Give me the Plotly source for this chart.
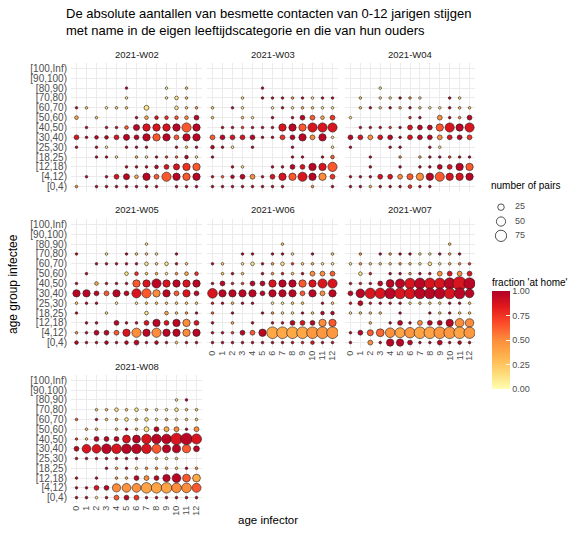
import plotly.graph_objects as go

# ---------------- data ----------------
age_groups = ["[100,Inf)", "[90,100)", "[80,90)", "[70,80)", "[60,70)", "[50,60)",
              "[40,50)", "[30,40)", "[25,30)", "[18,25)", "[12,18)", "[4,12)", "[0,4)"]
infector_ages = list(range(13))
weeks = ["2021-W02", "2021-W03", "2021-W04", "2021-W05", "2021-W06", "2021-W07", "2021-W08"]
size_breaks = [25, 50, 75]
fraction_tickvals = [0, 0.25, 0.5, 0.75, 1.0]
fraction_ticktext = ["0.00", "0.25", "0.50", "0.75", "1.00"]

Z = [0] * 13

n_w02 = [Z, Z,
         [0,0,0,0,0,4,0,0,0,4,0,4,0],
         [0,0,0,0,0,4,0,0,0,4,8,4,0],
         [4,4,0,4,4,4,0,14,0,0,8,4,4],
         [8,0,4,0,0,0,4,8,8,8,8,8,14],
         [0,4,0,4,4,8,22,32,32,32,32,50,32],
         [14,4,8,8,14,22,14,32,32,32,14,32,32],
         [4,0,4,4,0,4,4,4,0,0,4,4,4],
         [0,0,4,4,4,0,4,4,4,4,4,8,4],
         [0,0,0,0,0,4,4,4,8,14,22,32,32],
         [0,4,0,4,14,22,8,32,14,50,32,32,32],
         [4,0,4,4,4,4,4,4,4,0,4,4,4]]
f_w02 = [Z, Z,
         [0,0,0,0,0,.97,0,0,0,.12,0,.26,0],
         [0,0,0,0,0,.12,0,0,0,.12,.12,.26,0],
         [.97,.26,0,.12,.26,.26,0,.12,0,0,.12,.26,.5],
         [.38,0,.26,0,0,0,.97,.38,.87,.76,.64,.5,.97],
         [0,.97,0,.97,.97,.64,.97,.87,.87,.87,.97,.64,.97],
         [.87,.97,.97,.97,.87,.97,.97,.97,.64,.97,.64,.97,.97],
         [.97,0,.97,.12,0,.97,.97,.97,0,0,.97,.26,.97],
         [0,0,.97,.97,.12,0,.38,.12,.97,.76,.64,.97,.12],
         [0,0,0,0,0,.97,.97,.97,.97,.87,.87,.76,.64],
         [0,.97,0,.97,.87,.97,.38,.97,.64,.64,.97,.64,.97],
         [.5,0,.97,.97,.97,.97,.97,.97,.97,0,.97,.97,.97]]

n_w03 = [Z, Z,
         [0,0,0,0,0,4,0,0,0,0,0,0,0],
         [0,0,0,4,0,4,4,4,4,4,4,4,4],
         [4,0,4,4,0,0,4,4,4,4,4,4,4],
         [4,0,0,4,4,0,4,0,4,14,14,8,14],
         [0,4,4,4,4,4,4,32,32,32,50,50,50],
         [14,14,14,14,14,4,4,14,14,32,14,32,4],
         [8,4,4,0,4,0,0,0,4,0,0,0,4],
         [4,0,0,0,0,0,0,0,4,4,0,4,8],
         [0,0,4,4,0,0,4,4,14,14,32,32,50],
         [4,4,8,14,14,4,14,32,32,50,32,32,14],
         [4,4,4,4,4,4,4,4,0,0,4,0,4]]
f_w03 = [Z, Z,
         [0,0,0,0,0,.97,0,0,0,0,0,0,0],
         [0,0,0,.12,0,.97,.97,.97,.5,.97,.12,.97,.97],
         [.26,0,.97,.12,0,0,.12,.97,.12,.38,.26,.12,.12],
         [.26,0,0,.26,.12,0,.97,0,.97,.97,.64,.38,.76],
         [0,.97,.97,.76,.97,.97,.97,.87,.97,.64,.87,.87,.87],
         [.64,.97,.87,.87,.97,.97,.97,.76,.97,.97,.5,.97,.12],
         [.97,.97,.12,0,.97,0,0,0,.97,0,0,0,.12],
         [.97,0,0,0,0,0,0,0,.97,.97,0,.97,.64],
         [0,0,.97,.12,0,0,.97,.97,.97,.87,.97,.87,.64],
         [.97,.64,.97,.97,.5,.97,.87,.87,.64,.87,.97,.5,.76],
         [.97,.97,.97,.97,.97,.97,.97,.97,0,0,.5,0,.97]]

n_w04 = [Z, Z,
         [0,0,0,4,0,0,0,0,0,0,0,0,0],
         [0,4,0,4,4,4,4,4,0,0,4,4,0],
         [0,4,4,4,4,4,4,4,4,4,4,4,4],
         [4,0,0,0,0,0,4,4,0,14,4,4,14],
         [0,4,4,4,4,4,14,14,14,32,50,32,50],
         [14,14,14,14,14,4,14,14,14,14,14,14,14],
         [4,0,0,0,4,4,0,0,4,4,0,0,0],
         [0,0,4,0,0,4,0,4,4,4,4,4,4],
         [0,0,4,0,0,4,0,4,4,14,14,32,32],
         [4,4,4,14,14,14,22,32,32,50,32,32,32],
         [4,4,4,4,4,4,8,4,4,0,0,0,0]]
f_w04 = [Z, Z,
         [0,0,0,.12,0,0,0,0,0,0,0,0,0],
         [0,.26,0,.12,.12,.97,.5,.12,0,0,.97,.12,0],
         [0,.26,.97,.26,.97,.38,.97,.26,.12,.12,.97,.38,.26],
         [.12,0,0,0,0,0,.76,.97,0,.5,.97,.5,.97],
         [0,.97,.97,.97,.76,.97,.87,.97,.97,.64,.87,.97,.87],
         [.97,.87,.5,.87,.97,.97,.87,.97,.97,.5,.87,.97,.76],
         [.97,0,0,0,.97,.97,0,0,.97,.12,0,0,0],
         [0,0,.97,0,0,.5,0,.38,.97,.97,.76,.97,.97],
         [0,0,.97,0,0,.97,0,.97,.97,.97,.87,.97,.64],
         [.97,.97,.97,.87,.87,.5,.64,.5,.97,.64,.87,.87,.97],
         [.97,.97,.38,.97,.97,.97,.76,.97,.97,0,0,0,0]]

n_w05 = [Z, Z,
         [0,0,0,0,0,0,0,4,0,0,0,0,0],
         [4,0,0,4,0,4,4,4,4,0,4,0,0],
         [0,0,4,4,4,4,4,8,4,8,4,4,0],
         [0,4,0,0,0,8,8,4,4,4,4,8,8],
         [4,0,8,4,4,4,32,32,50,32,32,32,32],
         [32,32,14,14,32,14,50,50,32,32,14,32,14],
         [4,4,4,0,4,0,4,4,4,4,4,4,4],
         [4,0,0,4,0,0,0,8,0,8,4,4,4],
         [0,4,4,0,14,4,4,14,32,14,32,32,14],
         [4,4,14,14,14,32,50,32,50,32,32,32,32],
         [8,4,4,8,4,8,14,4,8,4,4,4,4]]
f_w05 = [Z, Z,
         [0,0,0,0,0,0,0,.12,0,0,0,0,0],
         [.97,0,0,.12,0,.97,.26,.26,.12,0,.97,0,0],
         [0,0,.97,.97,.97,.97,.97,.12,.26,.12,.97,.26,0],
         [0,.97,0,0,0,.12,.76,.26,.38,.12,.5,.38,.76],
         [.97,0,.38,.97,.97,.97,.64,.87,.97,.87,.97,.87,.97],
         [.97,.97,.97,.64,.97,.97,.87,.64,.5,.97,.64,.87,.97],
         [.26,.97,.97,0,.12,0,.12,.26,.26,.26,.26,.26,.26],
         [.97,0,0,.12,0,0,0,.12,0,.38,.26,.5,.97],
         [0,.97,.97,0,.97,.97,.97,.87,.97,.87,.97,.5,.87],
         [.5,.97,.97,.97,.64,.87,.5,.97,.5,.97,.97,.5,.97],
         [.97,.97,.97,.97,.97,.97,.97,.97,.97,.97,.26,.97,.97]]

n_w06 = [Z, Z,
         [0,0,0,0,0,0,0,4,0,0,0,0,0],
         [0,0,0,4,4,0,4,4,4,0,4,0,4],
         [4,4,0,4,8,4,4,8,4,4,4,4,4],
         [0,4,4,4,0,4,4,4,4,4,14,14,14],
         [4,14,4,4,14,14,32,32,32,32,32,50,50],
         [55,32,32,32,32,14,32,32,32,14,32,14,32],
         [4,4,4,4,4,0,4,4,4,4,0,4,4],
         [4,0,4,0,0,4,4,4,4,4,4,8,8],
         [4,0,4,0,4,0,4,4,14,14,14,32,32],
         [4,4,4,14,14,32,80,80,80,80,80,80,80],
         [4,4,4,4,4,4,4,4,4,4,8,4,4]]
f_w06 = [Z, Z,
         [0,0,0,0,0,0,0,.26,0,0,0,0,0],
         [0,0,0,.97,.97,0,.97,.97,.12,0,.97,0,.26],
         [.97,.26,0,.12,.12,.97,.5,.12,.76,.26,.38,.12,.12],
         [0,.26,.97,.26,0,.97,.5,.87,.26,.97,.5,.5,.64],
         [.97,.97,.87,.76,.97,.97,.87,.97,.97,.64,.87,.87,.87],
         [.87,.97,.97,.97,.97,.97,.97,.97,.97,.64,.97,.5,.97],
         [.87,.97,.38,.97,.97,0,.12,.12,.26,.26,0,.97,.26],
         [.64,0,.97,0,0,.97,.5,.12,.12,.97,.26,.97,.97],
         [.97,0,.38,0,.97,0,.97,.97,.97,.87,.97,.5,.64],
         [.97,.97,.76,.97,.64,.97,.38,.38,.38,.38,.45,.45,.45],
         [.97,.97,.97,.97,.97,.97,.97,.97,.97,.87,.87,.97,.97]]

n_w07 = [Z, Z,
         [0,0,0,0,0,0,0,0,0,0,4,0,0],
         [0,4,0,4,4,4,4,4,4,4,4,4,0],
         [4,4,4,4,4,4,4,4,8,4,4,4,4],
         [0,8,4,0,4,4,4,4,4,14,14,14,14],
         [4,4,4,14,36,50,65,70,70,70,75,110,75],
         [14,45,65,65,70,70,70,70,70,70,70,70,45],
         [4,14,4,4,4,4,4,4,4,4,4,4,4],
         [4,4,4,4,0,4,0,0,4,4,4,4,4],
         [0,0,4,0,4,14,4,14,14,14,32,45,40],
         [4,14,22,36,55,60,65,80,80,80,80,80,75],
         [4,0,14,4,32,32,14,4,4,14,4,8,4]]
f_w07 = [Z, Z,
         [0,0,0,0,0,0,0,0,0,0,.26,0,0],
         [0,.5,0,.97,.5,.97,.97,.12,.12,.97,.38,.97,0],
         [.12,.5,.26,.26,.26,.5,.26,.12,.12,.12,.38,.5,.76],
         [0,.12,.87,0,.97,.97,.5,.97,.87,.5,.87,.5,.87],
         [.97,.87,.97,.97,.97,.97,.87,.97,.87,.87,.97,.87,.97],
         [.97,.97,.87,.87,.97,.87,.87,.97,.97,.97,.87,.97,.97],
         [.87,.97,.87,.97,.87,.97,.12,.26,.26,.26,.97,.97,.26],
         [.12,.26,.26,.26,0,.97,0,0,.97,.26,.97,.26,.26],
         [0,0,.26,0,.97,.97,.97,.5,.97,.97,.97,.5,.5],
         [.97,.97,.64,.6,.48,.4,.45,.4,.4,.45,.45,.4,.45],
         [.97,0,.5,.97,.97,.97,.97,.97,.97,.97,.97,.97,.97]]

n_w08 = [Z, Z,
         [0,0,0,0,0,0,0,0,0,0,4,4,0],
         [0,0,4,4,8,4,8,4,4,4,8,4,4],
         [4,0,4,4,4,8,4,8,4,4,4,4,4],
         [0,4,4,0,4,4,4,14,14,14,14,4,14],
         [4,4,14,14,14,36,36,55,55,55,80,80,60],
         [14,45,45,55,55,55,55,55,48,38,38,38,20],
         [4,4,4,4,4,4,4,0,4,4,4,0,0],
         [0,0,0,4,4,4,4,4,4,4,4,4,4],
         [4,0,4,0,4,4,14,14,14,32,45,36,36],
         [4,4,14,14,38,45,45,65,65,65,55,55,48],
         [4,4,4,4,14,14,14,4,4,4,4,4,4]]
f_w08 = [Z, Z,
         [0,0,0,0,0,0,0,0,0,0,.12,.97,0],
         [0,0,.26,.26,.12,.26,.12,.26,.12,.12,.12,.26,.26],
         [.64,0,.97,.26,.38,.12,.26,.12,.12,.38,.12,.26,.26],
         [0,.26,.26,0,.26,.97,.38,.12,.97,.38,.5,.97,.5],
         [.76,.26,.97,.97,.97,.87,.97,.87,.97,.97,.87,.97,.87],
         [.97,.87,.87,.97,.87,.97,.97,.87,.64,.97,.97,.64,.97],
         [.97,.97,.97,.97,.97,.97,.97,0,.26,.12,.26,0,0],
         [0,0,0,.97,.38,.97,.12,.5,.5,.38,.26,.97,.5],
         [.97,0,.97,0,.5,.38,.97,.5,.97,.97,.97,.64,.38],
         [.97,.97,.87,.97,.5,.48,.48,.4,.4,.4,.5,.5,.64],
         [.97,.97,.12,.97,.64,.97,.76,.97,.97,.97,.97,.97,.97]]

week_n = [n_w02, n_w03, n_w04, n_w05, n_w06, n_w07, n_w08]
week_f = [f_w02, f_w03, f_w04, f_w05, f_w06, f_w07, f_w08]

# ---------------- layout helpers ----------------
W, H = 578, 537
def px_x(v): return v / W
def px_y(v): return 1 - v / H

col_px = [(71, 202), (207, 338), (345, 475)]
row_px = [(63, 192), (219, 348), (375, 503)]
panel_pos = [(0, 0), (0, 1), (0, 2), (1, 0), (1, 1), (1, 2), (2, 0)]
bottom_panels = {4, 5, 6}
left_panels = {0, 3, 6}

SIZEREF = 1.18
FONT = "Liberation Sans, Arial, Helvetica, sans-serif"
GRID = "#EBEBEB"
colorscale = [[0.0, "#FFFFB2"], [1/6, "#FED976"], [2/6, "#FEB24C"], [3/6, "#FD8D3C"],
              [4/6, "#FC4E2A"], [5/6, "#E31A1C"], [1.0, "#B10026"]]

fig = go.Figure()
layout = {}
annotations = []
nrows = len(age_groups)

for i, wk in enumerate(weeks):
    xs, ys, ss, cs = [], [], [], []
    for r, grp in enumerate(age_groups):
        for c, age in enumerate(infector_ages):
            n = week_n[i][r][c]
            if n > 0:
                xs.append(age)
                ys.append(nrows - 1 - r)
                ss.append(n)
                cs.append(week_f[i][r][c])
    ax = "" if i == 0 else str(i + 1)
    fig.add_trace(go.Scatter(
        x=xs, y=ys, mode="markers", xaxis="x" + ax, yaxis="y" + ax,
        showlegend=False, hoverinfo="skip",
        marker=dict(size=ss, sizemode="area", sizeref=SIZEREF, sizemin=1, opacity=1,
                    color=cs, coloraxis="coloraxis",
                    line=dict(color="#1F1F1F", width=0.6))))
    rr, cc = panel_pos[i]
    x0, x1 = col_px[cc]
    y0, y1 = row_px[rr]
    layout["xaxis" + ax] = dict(
        domain=[px_x(x0), px_x(x1)], anchor="y" + ax, range=[-0.55, 12.55],
        tickmode="array", tickvals=infector_ages, ticktext=[str(a) for a in infector_ages],
        showticklabels=(i in bottom_panels), tickangle=-90,
        tickfont=dict(size=9, color="#4D4D4D", family=FONT),
        showgrid=True, gridcolor=GRID, gridwidth=1, zeroline=False, showline=False,
        ticks="", fixedrange=True)
    layout["yaxis" + ax] = dict(
        domain=[px_y(y1), px_y(y0)], anchor="x" + ax, range=[-0.55, 12.55],
        tickmode="array", tickvals=list(range(nrows)), ticktext=age_groups[::-1],
        showticklabels=(i in left_panels), ticklabelstandoff=3,
        tickfont=dict(size=10, color="#4D4D4D", family=FONT),
        showgrid=True, gridcolor=GRID, gridwidth=1, zeroline=False, showline=False,
        ticks="", fixedrange=True)
    annotations.append(dict(
        text=wk, x=px_x((x0 + x1) / 2), y=px_y(y0 - 9), xref="paper", yref="paper",
        xanchor="center", yanchor="middle", showarrow=False,
        font=dict(size=9.5, color="#1A1A1A", family=FONT)))

# size legend panel
fig.add_trace(go.Scatter(
    x=[11] * len(size_breaks), y=list(range(len(size_breaks)))[::-1], mode="markers",
    xaxis="x8", yaxis="y8", showlegend=False, hoverinfo="skip",
    marker=dict(size=size_breaks, sizemode="area", sizeref=SIZEREF, color="white",
                opacity=1, line=dict(color="#262626", width=0.8))))
fig.add_trace(go.Scatter(
    x=[25] * len(size_breaks), y=list(range(len(size_breaks)))[::-1], mode="text",
    text=[str(b) for b in size_breaks], textposition="middle right",
    textfont=dict(size=9, color="#4D4D4D", family=FONT),
    xaxis="x8", yaxis="y8", showlegend=False, hoverinfo="skip"))
layout["xaxis8"] = dict(domain=[px_x(490), px_x(540)], range=[0, 50], visible=False,
                        anchor="y8", fixedrange=True)
layout["yaxis8"] = dict(domain=[px_y(243), px_y(200)], range=[-0.5, 2.5], visible=False,
                        anchor="x8", fixedrange=True)

annotations += [
    dict(text="De absolute aantallen van besmette contacten van 0-12 jarigen stijgen<br>"
              "met name in de eigen leeftijdscategorie en die van hun ouders",
         x=px_x(64), y=px_y(4), xref="paper", yref="paper", xanchor="left", yanchor="top",
         align="left", showarrow=False, font=dict(size=13, color="black", family=FONT)),
    dict(text="age group infectee", x=px_x(13), y=px_y(284), xref="paper", yref="paper",
         xanchor="center", yanchor="middle",
         textangle=-90, showarrow=False, font=dict(size=12, color="black", family=FONT)),
    dict(text="age infector", x=px_x(268), y=px_y(528), xref="paper", yref="paper",
         showarrow=False, font=dict(size=11.5, color="black", family=FONT)),
    dict(text="number of pairs", x=px_x(489), y=px_y(186), xref="paper", yref="paper",
         xanchor="left", showarrow=False, font=dict(size=10, color="black", family=FONT)),
]

layout["coloraxis"] = dict(
    cmin=0, cmax=1, colorscale=colorscale,
    colorbar=dict(
        title=dict(text="fraction 'at home'", side="top",
                   font=dict(size=10, color="black", family=FONT)),
        x=px_x(492), xanchor="left", xpad=0,
        y=px_y(275), yanchor="top", ypad=0,
        lenmode="pixels", len=114, thicknessmode="pixels", thickness=18,
        tickmode="array", tickvals=fraction_tickvals, ticktext=fraction_ticktext,
        ticks="inside", tickcolor="white", ticklen=4,
        tickfont=dict(size=9, color="#4D4D4D", family=FONT), outlinewidth=0))

fig.update_layout(
    width=W, height=H, margin=dict(l=0, r=0, t=0, b=0),
    paper_bgcolor="white", plot_bgcolor="white",
    font=dict(family=FONT), annotations=annotations, **layout)

fig.write_html("out.html", config={"displayModeBar": False},
               post_script="document.body.style.margin='0';document.body.style.padding='0';")
